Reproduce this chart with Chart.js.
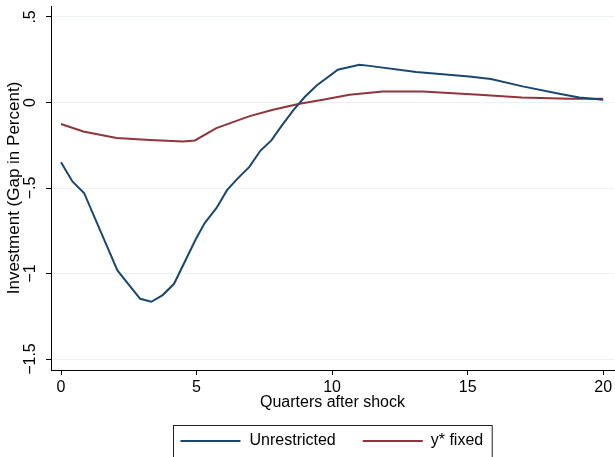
<!DOCTYPE html>
<html>
<head>
<meta charset="utf-8">
<script src="https://cdn.jsdelivr.net/npm/chart.js@4/dist/chart.umd.min.js"></script>
<style>body{margin:0;background:#fff}</style>
</head>
<body>
<canvas id="chart" width="615" height="457"></canvas>
<script>
// values
const unrestricted_q = [0, 0.42, 0.85, 2.08, 2.92, 3.33, 3.75, 4.17, 4.97, 5.30, 5.73, 6.13, 6.53, 6.94, 7.36, 7.76, 8.17, 8.58, 8.99, 9.42, 10.21, 11.01, 11.38, 13.1, 15.06, 15.86, 17.03, 18.38, 19.12, 20];
const unrestricted = [-0.349, -0.462, -0.529, -0.982, -1.148, -1.165, -1.126, -1.060, -0.80, -0.705, -0.618, -0.511, -0.442, -0.378, -0.281, -0.222, -0.130, -0.043, 0.032, 0.098, 0.191, 0.220, 0.214, 0.178, 0.152, 0.137, 0.094, 0.051, 0.029, 0.016];
const fixed_q = [0, 0.82, 2.05, 3.28, 4.5, 4.94, 5.73, 6.96, 7.82, 8.8, 9.66, 10.64, 11.87, 13.34, 15.43, 17.0, 18.75, 20];
const fixed = [-0.126, -0.170, -0.208, -0.220, -0.228, -0.222, -0.150, -0.080, -0.043, -0.008, 0.016, 0.045, 0.064, 0.064, 0.045, 0.029, 0.022, 0.022];

const x_ticks = [0, 5, 10, 15, 20];
const y_ticks = [-1.5, -1, -0.5, 0, 0.5];
const y_tick_labels = ["\u22121.5", "\u22121", "\u2212.5", "0", ".5"];

const to_points = function (xs, ys) {
    let array = [];
    for (let i = 0; i < xs.length; i++) {
        array.push({x: xs[i], y: ys[i]});
    }
    return array;
}

const font_family = "'Liberation Sans', Arial, sans-serif";
Chart.defaults.font.family = font_family;
Chart.defaults.font.size = 16;
Chart.defaults.color = "#000";

// stata style legend: boxed, centred under the plot
const box_legend = {
    id: "box_legend",
    afterDraw(chart) {
        const ctx = chart.ctx;
        const area = chart.chartArea;
        const sets = chart.data.datasets;
        ctx.save();
        ctx.font = "16px " + font_family;
        const w1 = ctx.measureText(sets[0].label).width;
        const w2 = ctx.measureText(sets[1].label).width;
        const total = 7 + 60 + 9 + w1 + 27 + 60 + 8 + w2 + 9;
        const left = Math.round((area.left + area.right) / 2 - total / 2) + 0.5;
        const top = 425.5;
        const mid = 441;
        ctx.strokeStyle = "#222";
        ctx.lineWidth = 1;
        ctx.strokeRect(left, top, total, 40);

        let x = left + 7;
        const items = [[sets[0], w1, 9], [sets[1], w2, 8]];
        items.forEach((it) => {
            ctx.strokeStyle = it[0].borderColor;
            ctx.lineWidth = 2;
            ctx.beginPath();
            ctx.moveTo(x, mid);
            ctx.lineTo(x + 60, mid);
            ctx.stroke();
            x += 60 + it[2];
            ctx.fillStyle = "#000";
            ctx.textBaseline = "middle";
            ctx.textAlign = "left";
            ctx.fillText(it[0].label, x, mid);
            x += it[1] + 27;
        });
        ctx.restore();
    }
};

const draw_chart = () => {
    const ctx = document.getElementById("chart");

    new Chart(ctx, {
        type: "line",
        data: {
            datasets: [{
                label: "Unrestricted",
                data: to_points(unrestricted_q, unrestricted),
                borderColor: "#1a476f",
                borderWidth: 2,
                pointRadius: 0,
                tension: 0,
                fill: false
            }, {
                label: "y* fixed",
                data: to_points(fixed_q, fixed),
                borderColor: "#90353b",
                borderWidth: 2,
                pointRadius: 0,
                tension: 0,
                fill: false
            }]
        },
        options: {
            responsive: false,
            animation: false,
            devicePixelRatio: 1,
            layout: {padding: {left: 0, right: 1, top: 6, bottom: 45}},
            plugins: {
                legend: {display: false},
                tooltip: {enabled: false}
            },
            scales: {
                x: {
                    type: "linear",
                    min: -0.37,
                    max: 20.4,
                    afterBuildTicks: (scale) => {
                        scale.ticks = x_ticks.map(v => ({value: v}));
                    },
                    afterFit: (scale) => {
                        scale.height = 42;
                        scale.paddingLeft = 0;
                        scale.paddingRight = 0;
                    },
                    grid: {
                        display: true,
                        drawOnChartArea: false,
                        drawTicks: true,
                        tickLength: 5,
                        tickColor: "#000"
                    },
                    border: {display: true, color: "#000", width: 1},
                    ticks: {
                        autoSkip: false,
                        maxRotation: 0,
                        padding: 3,
                        color: "#000",
                        callback: (v) => String(v)
                    },
                    title: {
                        display: true,
                        text: "Quarters after shock",
                        color: "#000",
                        padding: {top: 0, bottom: 0}
                    }
                },
                y: {
                    type: "linear",
                    min: -1.564,
                    max: 0.564,
                    afterBuildTicks: (scale) => {
                        scale.ticks = y_ticks.map(v => ({value: v}));
                    },
                    afterFit: (scale) => {
                        scale.width = 51;
                        scale.paddingTop = 0;
                        scale.paddingBottom = 0;
                    },
                    grid: {
                        color: "#eaf2f3",
                        lineWidth: 1,
                        drawTicks: true,
                        tickLength: 5,
                        tickColor: "#000"
                    },
                    border: {display: true, color: "#000", width: 1},
                    ticks: {
                        autoSkip: false,
                        minRotation: 90,
                        maxRotation: 90,
                        crossAlign: "center",
                        padding: 0,
                        color: "#000",
                        callback: (v) => y_tick_labels[y_ticks.indexOf(v)]
                    },
                    title: {
                        display: true,
                        text: "Investment (Gap in Percent)",
                        color: "#000",
                        font: {size: 17},
                        padding: {top: 4, bottom: 0}
                    }
                }
            }
        },
        plugins: [box_legend]
    });
}

draw_chart();
</script>
</body>
</html>
